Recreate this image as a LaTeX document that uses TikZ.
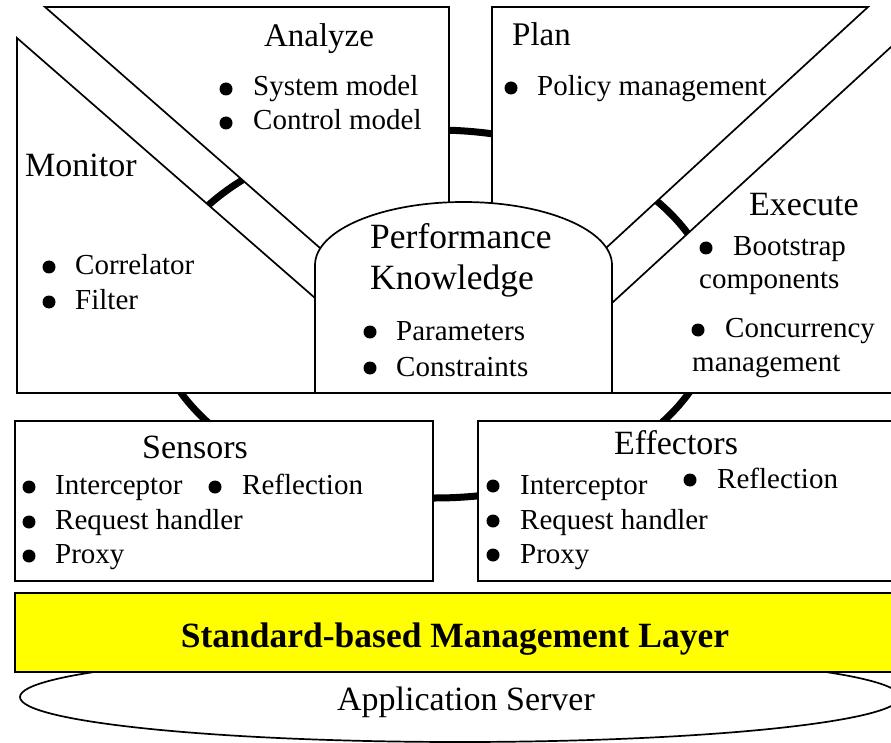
\documentclass[tikz,border=0pt]{standalone}
\usepackage{fontspec}
\setmainfont{Liberation Serif}
\begin{document}
\begin{tikzpicture}[x=1pt,y=1pt,
  panel/.style={draw=black, line width=1.7pt, fill=white, line join=miter},
  cyclering/.style={draw=black, line width=7pt},
  ttl/.style={font=\fontsize{34}{36}\selectfont, inner sep=0pt, anchor=base},
  ttlw/.style={font=\fontsize{34}{36}\selectfont, inner sep=0pt, anchor=base west},
  itm/.style={font=\fontsize{29}{31}\selectfont, inner sep=0pt, anchor=base west},
  bdot/.style={circle, fill=black, inner sep=0pt, minimum size=13pt}]
\useasboundingbox (0,0) rectangle (891,-743);

% the control loop running behind all panels
\draw[cyclering] (435,-314) ellipse [x radius=281, y radius=184];

% MAPE panels
\draw[panel] (45,-7) -- (449,-7) -- (449,-210) -- (320,-248) -- cycle;
\draw[panel] (492,-7) -- (868,-7) -- (606,-248) -- (492,-210) -- cycle;
\draw[panel] (17,-38) -- (315,-298) -- (315,-393) -- (17,-393) -- cycle;
\draw[panel] (900,-38.7) -- (612,-303) -- (612,-393) -- (900,-393) -- cycle;

% knowledge dome
\draw[panel] (315,-393) -- (315,-265)
  arc[start angle=180, end angle=0, x radius=148.5, y radius=63]
  -- (612,-393) -- cycle;

% touchpoint boxes
\draw[panel] (15,-421) rectangle (433,-581);
\draw[panel] (478,-421) rectangle (900,-581);

% server and management layer
\draw[panel] (460,-697) ellipse [x radius=440, y radius=45];
\draw[panel, fill={rgb,255:red,255;green,255;blue,0}] (15,-593) rectangle (900,-672);

% Analyze
\node[ttl, font=\fontsize{33}{36}\selectfont] (analyze) at (319,-47) {Analyze};
\node[bdot] (a1) at (226,-89) {};
\node[itm] (a1t) at (253,-96) {System model};
\node[bdot] (a2) at (226,-123) {};
\node[itm] (a2t) at (253,-130) {Control model};

% Plan
\node[ttlw, font=\fontsize{33}{36}\selectfont] (plan) at (512,-46) {Plan};
\node[bdot] (p1) at (511,-88) {};
\node[itm] (p1t) at (537,-96) {Policy management};

% Monitor
\node[ttlw] (monitor) at (25,-177) {Monitor};
\node[bdot] (m1) at (49,-267) {};
\node[itm] (m1t) at (75,-275) {Correlator};
\node[bdot] (m2) at (49,-302) {};
\node[itm] (m2t) at (75,-309) {Filter};

% Execute
\node[ttlw] (execute) at (749,-216) {Execute};
\node[bdot] (e1) at (706,-248) {};
\node[itm] (e1t) at (733,-256) {Bootstrap};
\node[itm] (e1u) at (699,-288) {components};
\node[bdot] (e2) at (698,-330) {};
\node[itm] (e2t) at (725,-337) {Concurrency};
\node[itm] (e2u) at (692,-371) {management};

% Knowledge
\node[ttlw, font=\fontsize{35.5}{38}\selectfont] (perf) at (370,-249) {Performance};
\node[ttlw, font=\fontsize{35.5}{38}\selectfont] (know) at (370,-289) {Knowledge};
\node[bdot] (k1) at (370,-332) {};
\node[itm] (k1t) at (396,-340) {Parameters};
\node[bdot] (k2) at (370,-368) {};
\node[itm] (k2t) at (396,-376) {Constraints};

% Sensors
\node[ttl] (sensors) at (195,-458) {Sensors};
\node[bdot] (s1) at (29,-487) {};
\node[itm] (s1t) at (55,-494) {Interceptor};
\node[bdot] (s2) at (215,-487) {};
\node[itm] (s2t) at (242,-494) {Reflection};
\node[bdot] (s3) at (29,-522) {};
\node[itm] (s3t) at (55,-529) {Request handler};
\node[bdot] (s4) at (29,-556) {};
\node[itm] (s4t) at (55,-563) {Proxy};

% Effectors
\node[ttl] (effectors) at (676,-454) {Effectors};
\node[bdot] (f1) at (493,-486) {};
\node[itm] (f1t) at (520,-494) {Interceptor};
\node[bdot] (f2) at (690,-480) {};
\node[itm] (f2t) at (717,-488) {Reflection};
\node[bdot] (f3) at (493,-521) {};
\node[itm] (f3t) at (520,-529) {Request handler};
\node[bdot] (f4) at (493,-555) {};
\node[itm] (f4t) at (520,-563) {Proxy};

% bottom layers
\node[font=\fontsize{35.5}{38}\selectfont\bfseries, inner sep=0pt, anchor=base] (layer) at (455,-647) {Standard-based Management Layer};
\node[ttl] (server) at (466,-710) {Application Server};
\end{tikzpicture}
\end{document}
